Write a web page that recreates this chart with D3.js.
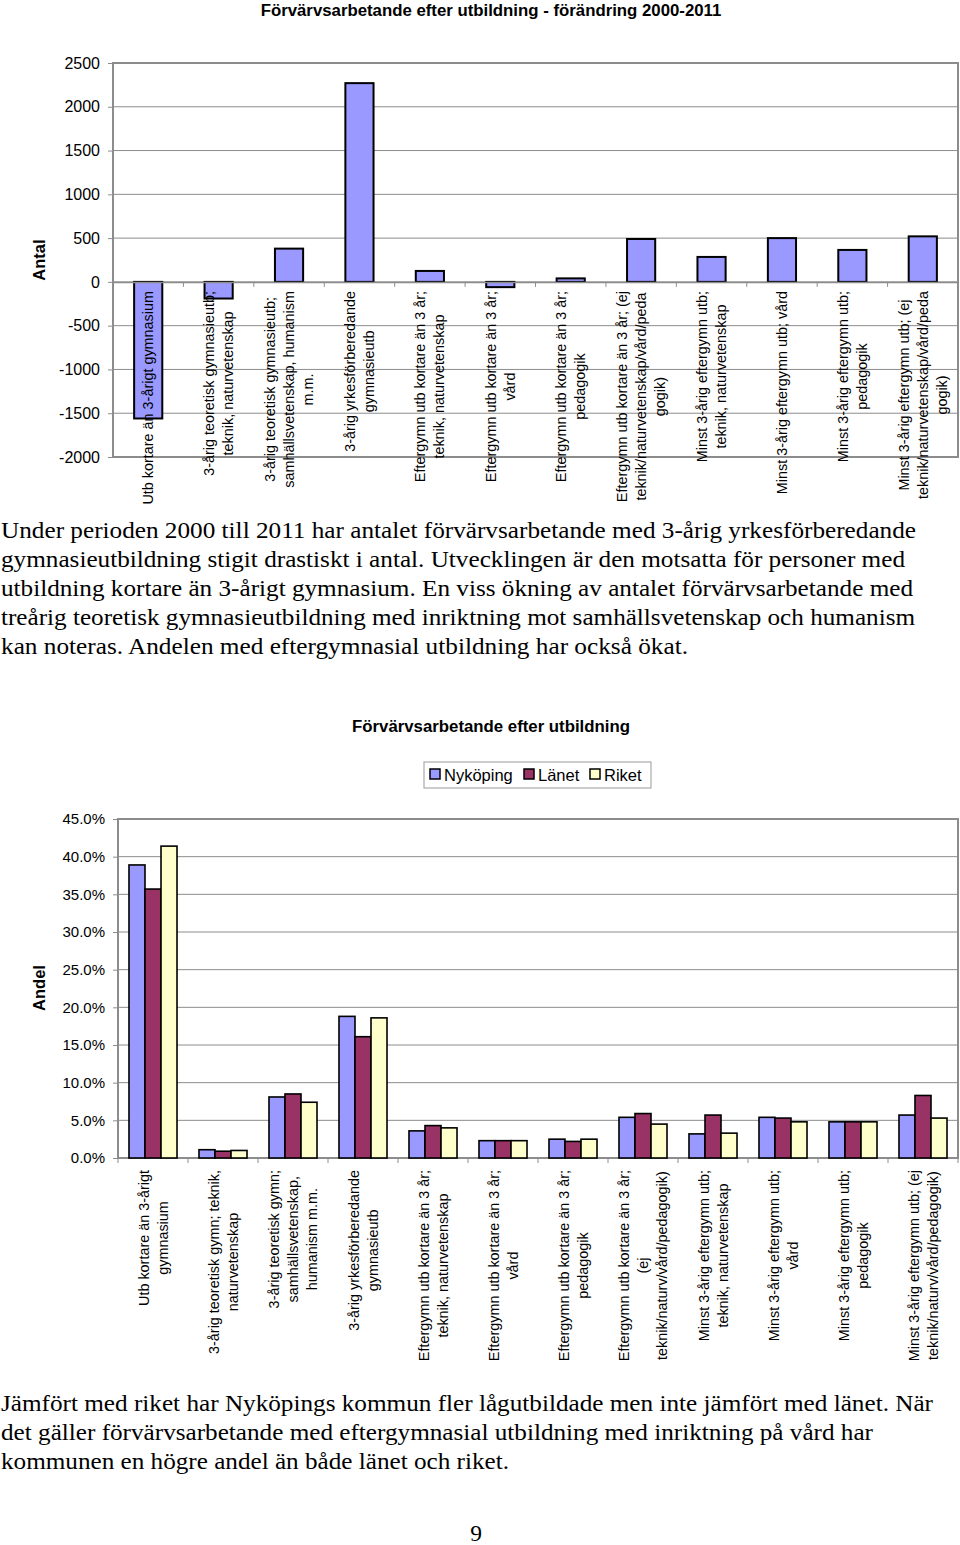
<!DOCTYPE html>
<html>
<head>
<meta charset="utf-8">
<script src="https://cdn.jsdelivr.net/npm/d3@7"></script>
<style>
  body { margin: 0; background: #fff; }
  svg { display: block; }
</style>
</head>
<body>
<svg id="page" width="960" height="1545"></svg>
<script>
var SANS = "'Liberation Sans', Arial, sans-serif";
var SERIF = "'Liberation Serif', 'Times New Roman', serif";

// --- data: change 2000-2011 (Antal)
var changeLabels = [
  ["Utb kortare än 3-årigt gymnasium"],
  ["3-årig teoretisk gymnasieutb;", "teknik, naturvetenskap"],
  ["3-årig teoretisk gymnasieutb;", "samhällsvetenskap, humanism", "m.m."],
  ["3-årig yrkesförberedande", "gymnasieutb"],
  ["Eftergymn utb kortare än 3 år;", "teknik, naturvetenskap"],
  ["Eftergymn utb kortare än 3 år;", "vård"],
  ["Eftergymn utb kortare än 3 år;", "pedagogik"],
  ["Eftergymn utb kortare än 3 år; (ej", "teknik/naturvetenskap/vård/peda", "gogik)"],
  ["Minst 3-årig eftergymn utb;", "teknik, naturvetenskap"],
  ["Minst 3-årig eftergymn utb; vård"],
  ["Minst 3-årig eftergymn utb;", "pedagogik"],
  ["Minst 3-årig eftergymn utb; (ej", "teknik/naturvetenskap/vård/peda", "gogik)"]
];
var changeValues = [-1560, -190, 380, 2270, 125, -60, 40, 490, 285, 500, 365, 520];
var changeTicks = [2500, 2000, 1500, 1000, 500, 0, -500, -1000, -1500, -2000];

// --- data: share by education (Andel)
var shareLabels = [
  ["Utb kortare än 3-årigt", "gymnasium"],
  ["3-årig teoretisk gymn; teknik,", "naturvetenskap"],
  ["3-årig teoretisk gymn;", "samhällsvetenskap,", "humanism m.m."],
  ["3-årig yrkesförberedande", "gymnasieutb"],
  ["Eftergymn utb kortare än 3 år;", "teknik, naturvetenskap"],
  ["Eftergymn utb kortare än 3 år;", "vård"],
  ["Eftergymn utb kortare än 3 år;", "pedagogik"],
  ["Eftergymn utb kortare än 3 år;", "(ej", "teknik/naturv/vård/pedagogik)"],
  ["Minst 3-årig eftergymn utb;", "teknik, naturvetenskap"],
  ["Minst 3-årig eftergymn utb;", "vård"],
  ["Minst 3-årig eftergymn utb;", "pedagogik"],
  ["Minst 3-årig eftergymn utb; (ej", "teknik/naturv/vård/pedagogik)"]
];
var seriesNames = ["Nyköping", "Länet", "Riket"];
var seriesColors = ["#9999ff", "#993366", "#ffffcc"];
var nykoping = [38.9, 1.1, 8.1, 18.8, 3.6, 2.3, 2.5, 5.4, 3.2, 5.4, 4.8, 5.7];
var lanet    = [35.7, 0.9, 8.5, 16.1, 4.3, 2.3, 2.2, 5.9, 5.7, 5.3, 4.8, 8.3];
var riket    = [41.4, 1.0, 7.4, 18.6, 4.0, 2.3, 2.5, 4.5, 3.3, 4.8, 4.8, 5.3];
var shareTicks = [0, 5, 10, 15, 20, 25, 30, 35, 40, 45];

// --- text
var para1 = [
  "Under perioden 2000 till 2011 har antalet förvärvsarbetande med 3-årig yrkesförberedande",
  "gymnasieutbildning stigit drastiskt i antal. Utvecklingen är den motsatta för personer med",
  "utbildning kortare än 3-årigt gymnasium. En viss ökning av antalet förvärvsarbetande med",
  "treårig teoretisk gymnasieutbildning med inriktning mot samhällsvetenskap och humanism",
  "kan noteras. Andelen med eftergymnasial utbildning har också ökat."
];
var para1Widths = [915, 904, 912, 914, 687];
var para2 = [
  "Jämfört med riket har Nyköpings kommun fler lågutbildade men inte jämfört med länet. När",
  "det gäller förvärvsarbetande med eftergymnasial utbildning med inriktning på vård har",
  "kommunen en högre andel än både länet och riket."
];
var para2Widths = [932, 872, 508];

var svg = d3.select("#page");
var grid = "#8c8c8c";

// rotated, centered multi-line category labels hanging from yTop
function catLabels(g, labels, xc, yTop, size, lh) {
  labels.forEach(function(lines, i) {
    var t = g.append("g")
      .attr("transform", "translate(" + xc(i) + "," + yTop + ") rotate(-90)");
    var texts = t.selectAll("text").data(lines).join("text")
      .attr("font-family", SANS)
      .attr("font-size", size)
      .attr("text-anchor", "middle")
      .attr("y", function(d, j) { return (j - (lines.length - 1) / 2) * lh; })
      .attr("dy", "0.35em")
      .text(function(d) { return d; });
    var maxW = 0;
    texts.each(function() { maxW = Math.max(maxW, this.getComputedTextLength()); });
    texts.attr("x", -maxW / 2);
  });
}

// ================= chart 1 =================
var c1 = { left: 113, right: 958, top: 63, bottom: 457 };
var x1 = d3.scaleBand().domain(d3.range(changeValues.length)).range([c1.left, c1.right]);
var y1 = d3.scaleLinear().domain([-2000, 2500]).range([c1.bottom, c1.top]);

svg.append("text").attr("font-family", SANS)
  .attr("x", 491).attr("y", 16).attr("text-anchor", "middle")
  .attr("font-size", 16.8).attr("font-weight", "bold")
  .text("Förvärvsarbetande efter utbildning - förändring 2000-2011");

var g1 = svg.append("g");
// gridlines
g1.selectAll("line.grid").data(changeTicks).join("line")
  .attr("x1", c1.left).attr("x2", c1.right)
  .attr("y1", function(d) { return y1(d); }).attr("y2", function(d) { return y1(d); })
  .attr("stroke", grid).attr("stroke-width", 1);
// frame
g1.append("rect").attr("x", c1.left).attr("y", c1.top)
  .attr("width", c1.right - c1.left).attr("height", c1.bottom - c1.top)
  .attr("fill", "none").attr("stroke", grid).attr("stroke-width", 2);

// y axis
var ax1 = g1.append("g").attr("transform", "translate(" + c1.left + ",0)")
  .call(d3.axisLeft(y1).tickValues(changeTicks).tickSize(5).tickPadding(8)
    .tickFormat(function(d) { return String(d); }));
ax1.select(".domain").remove();
ax1.selectAll("line").attr("stroke", grid);
ax1.selectAll("text").attr("font-family", SANS).attr("font-size", 16).attr("fill", "#000");

// bars
var bw1 = x1.bandwidth() * 0.4;
g1.selectAll("rect.bar").data(changeValues).join("rect")
  .attr("x", function(d, i) { return x1(i) + (x1.bandwidth() - bw1) / 2; })
  .attr("y", function(d) { return y1(Math.max(0, d)); })
  .attr("width", bw1)
  .attr("height", function(d) { return Math.abs(y1(d) - y1(0)); })
  .attr("fill", "#9999ff").attr("stroke", "#000").attr("stroke-width", 2);

// zero axis + ticks
var ax1x = g1.append("g").attr("transform", "translate(0," + y1(0) + ")")
  .call(d3.axisBottom(x1).tickSize(0).tickFormat(""));
ax1x.select(".domain").attr("stroke", grid).attr("stroke-width", 1.5);
g1.selectAll("line.ctick").data(d3.range(changeValues.length + 1)).join("line")
  .attr("x1", function(d) { return c1.left + d * x1.step(); })
  .attr("x2", function(d) { return c1.left + d * x1.step(); })
  .attr("y1", y1(0)).attr("y2", y1(0) + 5)
  .attr("stroke", grid);

catLabels(g1, changeLabels, function(i) { return x1(i) + x1.bandwidth() / 2; }, 291, 14.4, 19);

svg.append("text").attr("font-family", SANS)
  .attr("transform", "translate(45,260) rotate(-90)")
  .attr("text-anchor", "middle").attr("font-size", 16.5).attr("font-weight", "bold")
  .text("Antal");

// paragraph 1
svg.selectAll("text.p1").data(para1).join("text")
  .attr("class", "p1").attr("font-family", SERIF)
  .attr("x", 1).attr("y", function(d, i) { return 538 + i * 29; })
  .attr("font-size", 23.5)
  .attr("textLength", function(d, i) { return para1Widths[i]; })
  .attr("lengthAdjust", "spacingAndGlyphs")
  .text(function(d) { return d; });

// ================= chart 2 =================
var c2 = { left: 118, right: 958, top: 819, bottom: 1158 };
var x2 = d3.scaleBand().domain(d3.range(shareLabels.length)).range([c2.left, c2.right]);
var groupW = x2.bandwidth() * 0.686;
var xs = d3.scaleBand().domain(seriesNames).range([0, groupW]);
var y2 = d3.scaleLinear().domain([0, 45]).range([c2.bottom, c2.top]);
var seriesData = [nykoping, lanet, riket];

svg.append("text").attr("font-family", SANS)
  .attr("x", 491).attr("y", 732).attr("text-anchor", "middle")
  .attr("font-size", 16.8).attr("font-weight", "bold")
  .text("Förvärvsarbetande efter utbildning");

// legend
var lg = svg.append("g");
lg.append("rect").attr("x", 424).attr("y", 762).attr("width", 227).attr("height", 26)
  .attr("fill", "#fff").attr("stroke", "#999").attr("stroke-width", 1);
var legX = [430, 524, 590];
seriesNames.forEach(function(name, i) {
  lg.append("rect").attr("x", legX[i]).attr("y", 769).attr("width", 10).attr("height", 10)
    .attr("fill", seriesColors[i]).attr("stroke", "#000").attr("stroke-width", 1.5);
  lg.append("text").attr("font-family", SANS).attr("x", legX[i] + 14).attr("y", 781)
    .attr("font-size", 16.5).text(name);
});

var g2 = svg.append("g");
g2.selectAll("line.grid").data(shareTicks).join("line")
  .attr("x1", c2.left).attr("x2", c2.right)
  .attr("y1", function(d) { return y2(d); }).attr("y2", function(d) { return y2(d); })
  .attr("stroke", grid).attr("stroke-width", 1);
g2.append("rect").attr("x", c2.left).attr("y", c2.top)
  .attr("width", c2.right - c2.left).attr("height", c2.bottom - c2.top)
  .attr("fill", "none").attr("stroke", grid).attr("stroke-width", 2);

var ax2 = g2.append("g").attr("transform", "translate(" + c2.left + ",0)")
  .call(d3.axisLeft(y2).tickValues(shareTicks).tickSize(5).tickPadding(8)
    .tickFormat(function(d) { return d3.format(".1f")(d) + "%"; }));
ax2.select(".domain").remove();
ax2.selectAll("line").attr("stroke", grid);
ax2.selectAll("text").attr("font-family", SANS).attr("font-size", 15).attr("fill", "#000");

seriesData.forEach(function(vals, s) {
  g2.selectAll("rect.s" + s).data(vals).join("rect")
    .attr("class", "s" + s)
    .attr("x", function(d, i) { return x2(i) + (x2.bandwidth() - groupW) / 2 + xs(seriesNames[s]); })
    .attr("y", function(d) { return y2(d); })
    .attr("width", xs.bandwidth())
    .attr("height", function(d) { return y2(0) - y2(d); })
    .attr("fill", seriesColors[s]).attr("stroke", "#000").attr("stroke-width", 1.6);
});

g2.selectAll("line.ctick").data(d3.range(shareLabels.length + 1)).join("line")
  .attr("x1", function(d) { return c2.left + d * x2.step(); })
  .attr("x2", function(d) { return c2.left + d * x2.step(); })
  .attr("y1", c2.bottom).attr("y2", c2.bottom + 5)
  .attr("stroke", grid);

catLabels(g2, shareLabels, function(i) { return x2(i) + x2.bandwidth() / 2; }, 1170, 14.4, 19);

svg.append("text").attr("font-family", SANS)
  .attr("transform", "translate(45,988) rotate(-90)")
  .attr("text-anchor", "middle").attr("font-size", 16.5).attr("font-weight", "bold")
  .text("Andel");

// paragraph 2
svg.selectAll("text.p2").data(para2).join("text")
  .attr("class", "p2").attr("font-family", SERIF)
  .attr("x", 1).attr("y", function(d, i) { return 1411 + i * 29; })
  .attr("font-size", 23.5)
  .attr("textLength", function(d, i) { return para2Widths[i]; })
  .attr("lengthAdjust", "spacingAndGlyphs")
  .text(function(d) { return d; });

svg.append("text").attr("font-family", SERIF)
  .attr("x", 476).attr("y", 1541).attr("text-anchor", "middle")
  .attr("font-size", 23.5).text("9");
</script>
</body>
</html>
